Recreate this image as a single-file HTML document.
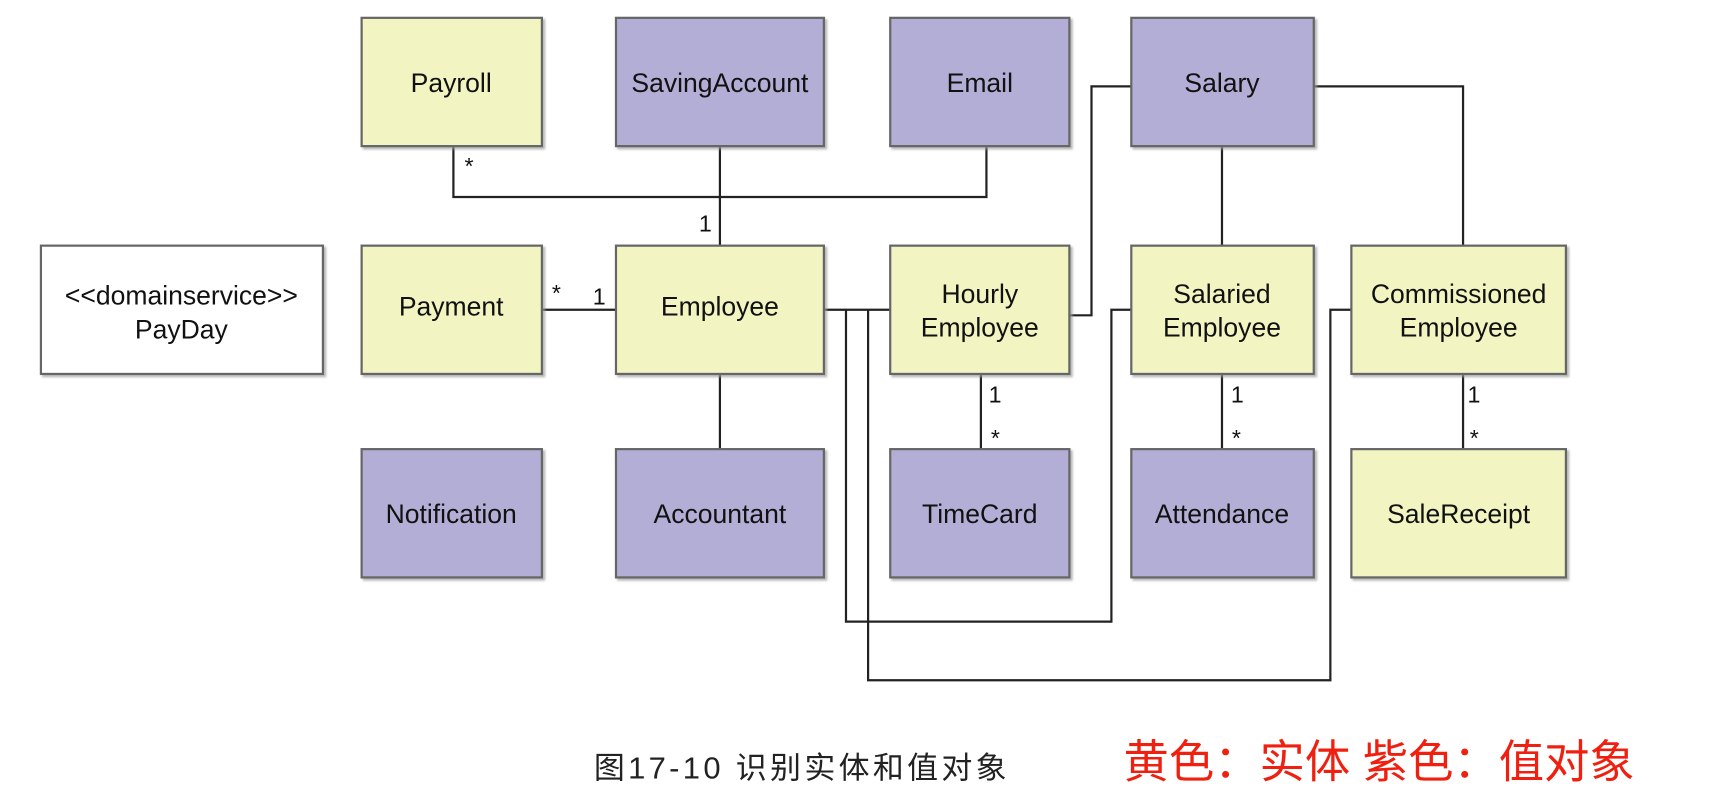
<!DOCTYPE html>
<html><head><meta charset="utf-8"><style>
html,body{margin:0;padding:0;background:#fff;width:1734px;height:812px;overflow:hidden}
svg{display:block}
text{font-family:"Liberation Sans","Noto Sans CJK SC",sans-serif}
</style></head><body>
<svg width="1734" height="812" viewBox="0 0 1568 734" xmlns="http://www.w3.org/2000/svg">
<defs>
<filter id="sh" x="-5%" y="-5%" width="115%" height="115%"><feDropShadow dx="2" dy="2" stdDeviation="1" flood-color="#999" flood-opacity="0.7"/></filter>
</defs>
<g fill="none" stroke="#222" stroke-width="2">
<polyline points="410,132 410,178 892,178 892,132"/>
<line x1="651" y1="132" x2="651" y2="222"/>
<line x1="490" y1="280" x2="557" y2="280"/>
<line x1="651" y1="338" x2="651" y2="406"/>
<line x1="745" y1="280" x2="805" y2="280"/>
<polyline points="765,280 765,562 1005,562 1005,280 1023,280"/>
<polyline points="785,280 785,615 1203,615 1203,280 1222,280"/>
<polyline points="967,285 987,285 987,78 1023,78"/>
<polyline points="1188,78 1323,78 1323,222"/>
<line x1="1105" y1="132" x2="1105" y2="222"/>
<line x1="887" y1="338" x2="887" y2="406"/>
<line x1="1105" y1="338" x2="1105" y2="406"/>
<line x1="1323" y1="338" x2="1323" y2="406"/>
</g>
<g stroke="#666" stroke-width="2" filter="url(#sh)">
<rect x="327" y="16" width="163" height="116" fill="#f2f5c2"/>
<rect x="557" y="16" width="188" height="116" fill="#b3aed6"/>
<rect x="805" y="16" width="162" height="116" fill="#b3aed6"/>
<rect x="1023" y="16" width="165" height="116" fill="#b3aed6"/>
<rect x="37" y="222" width="255" height="116" fill="#fff"/>
<rect x="327" y="222" width="163" height="116" fill="#f2f5c2"/>
<rect x="557" y="222" width="188" height="116" fill="#f2f5c2"/>
<rect x="805" y="222" width="162" height="116" fill="#f2f5c2"/>
<rect x="1023" y="222" width="165" height="116" fill="#f2f5c2"/>
<rect x="1222" y="222" width="194" height="116" fill="#f2f5c2"/>
<rect x="327" y="406" width="163" height="116" fill="#b3aed6"/>
<rect x="557" y="406" width="188" height="116" fill="#b3aed6"/>
<rect x="805" y="406" width="162" height="116" fill="#b3aed6"/>
<rect x="1023" y="406" width="165" height="116" fill="#b3aed6"/>
<rect x="1222" y="406" width="194" height="116" fill="#f2f5c2"/>
</g>
<g font-size="24" fill="#111" text-anchor="middle">
<text x="408" y="83">Payroll</text>
<text x="651" y="83">SavingAccount</text>
<text x="886" y="83">Email</text>
<text x="1105" y="83">Salary</text>
<text x="164" y="275">&lt;&lt;domainservice&gt;&gt;</text>
<text x="164" y="306">PayDay</text>
<text x="408" y="285">Payment</text>
<text x="651" y="285">Employee</text>
<text x="886" y="274">Hourly</text>
<text x="886" y="304">Employee</text>
<text x="1105" y="274">Salaried</text>
<text x="1105" y="304">Employee</text>
<text x="1319" y="274">Commissioned</text>
<text x="1319" y="304">Employee</text>
<text x="408" y="473">Notification</text>
<text x="651" y="473">Accountant</text>
<text x="886" y="473">TimeCard</text>
<text x="1105" y="473">Attendance</text>
<text x="1319" y="473">SaleReceipt</text>
</g>
<g font-size="21" fill="#111">
<text x="420" y="157">*</text>
<text x="632" y="209">1</text>
<text x="499" y="272">*</text>
<text x="536" y="275">1</text>
<text x="894" y="364">1</text>
<text x="896" y="403">*</text>
<text x="1113" y="364">1</text>
<text x="1114" y="403">*</text>
<text x="1327" y="364">1</text>
<text x="1329" y="403">*</text>
</g>
<text x="537" y="704" font-size="28" letter-spacing="3" fill="#222">图17-10 识别实体和值对象</text>
<text x="1016" y="703" font-size="41" fill="#f02010">黄色：实体 紫色：值对象</text>
</svg>
</body></html>
